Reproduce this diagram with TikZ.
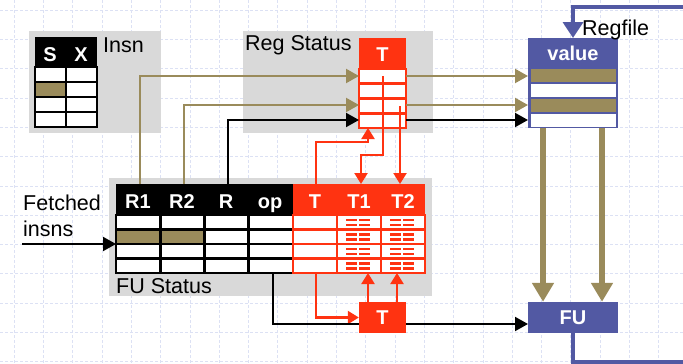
\documentclass[tikz,border=0pt]{standalone}
\usepackage{fontspec}
\setmainfont{Liberation Sans}
\usetikzlibrary{arrows.meta}

\definecolor{boxgray}{HTML}{D9D9D9}
\definecolor{regolive}{HTML}{9A8B5B}
\definecolor{tagred}{HTML}{FF3311}
\definecolor{rfblue}{HTML}{5259A3}
\definecolor{gridblue}{HTML}{DCE1F4}

\tikzset{
  lbl/.style={font=\fontsize{21.5}{24}\selectfont, inner sep=0pt},
  hdr/.style={font=\bfseries\fontsize{20}{22}\selectfont, text=white, inner sep=0pt, anchor=base},
  cellk/.style={draw=black, fill=white, line width=2.8pt},
  cellr/.style={draw=tagred, fill=white, line width=2.8pt},
  oliveln/.style={regolive, line width=2.2pt, -{Triangle[length=13pt,width=14pt]}},
  blackln/.style={black, line width=2pt, -{Triangle[length=13pt,width=14pt]}},
  redln/.style={tagred, line width=2.2pt, -{Triangle[length=11pt,width=13pt]}},
  busln/.style={regolive, line width=5.5pt, -{Triangle[length=19pt,width=21pt]}},
  wbln/.style={rfblue, line width=3.5pt},
}

\begin{document}
\begin{tikzpicture}[x=1pt, y=-1pt]
    \useasboundingbox (0,0) rectangle (683,364);

    % background grid
    \foreach \i in {0,...,22}
        \draw[gridblue, line width=0.6pt, dash pattern=on 3pt off 2pt] ({14+29.3*\i},0) -- ++(0,364);
    \foreach \j in {0,...,12}
        \draw[gridblue, line width=0.6pt, dash pattern=on 3pt off 2pt] (0,{10+29.3*\j}) -- ++(683,0);

    % gray panels
    \fill[boxgray] (29,31) rectangle (161,133);
    \fill[boxgray] (243,31) rectangle (433,133);
    \fill[boxgray] (109,178) rectangle (432,296);

    % Insn table
    \fill[black] (35,37) rectangle (97,67);
    \foreach \r in {0,...,3}
        \foreach \c in {0,1}
            \draw[cellk] ({35+31*\c},{67+15*\r}) rectangle ++(31,15);
    \draw[cellk, fill=regolive] (35,82) rectangle ++(31,15);
    \node[hdr] (hS) at (50,61) {S};
    \node[hdr] (hX) at (81,61) {X};

    % Reg Status table
    \fill[tagred] (359,38) rectangle (406,69);
    \foreach \r in {0,...,3}
        \draw[cellr] (359,{69+14.75*\r}) rectangle ++(47,14.75);
    \node[hdr] (hRegT) at (382.5,61) {T};

    % Regfile
    \fill[rfblue] (528,38) rectangle (618,128);
    \foreach \r/\col in {0/regolive,1/white,2/regolive,3/white}
        \fill[\col] (530.5,{68.5+15*\r}) rectangle (615.5,{81.5+15*\r});
    \node[hdr] (hValue) at (573,60) {value};

    % FU Status table
    \fill[black] (116,184) rectangle (293,215);
    \fill[tagred] (293,184) rectangle (425,215);
    \foreach \r in {0,...,3} {
        \foreach \c in {0,...,3}
            \draw[cellk] ({116+44.25*\c},{215+14.5*\r}) rectangle ++(44.25,14.5);
        \foreach \c in {0,1,2}
            \draw[cellr] ({293+44*\c},{215+14.5*\r}) rectangle ++(44,14.5);
    }
    \draw[cellk, fill=regolive] (116,229.5) rectangle ++(44.25,14.5);
    \draw[cellk, fill=regolive] (160.25,229.5) rectangle ++(44.25,14.5);
    % tag marks in T1/T2 cells
    \foreach \x in {337,381}
        \foreach \r in {0,...,3}
            \foreach \dx in {9,22}
                \foreach \dy in {3.5,8.5}
                    \fill[tagred] ({\x+\dx},{215+14.5*\r+\dy}) rectangle ++(11,2.6);
    \node[hdr] (hR1) at (138,208) {R1};
    \node[hdr] (hR2) at (182,208) {R2};
    \node[hdr] (hR) at (226,208) {R};
    \node[hdr] (hOp) at (270,208) {op};
    \node[hdr] (hT) at (315,208) {T};
    \node[hdr] (hT1) at (359,208) {T1};
    \node[hdr] (hT2) at (403,208) {T2};

    % T and FU boxes
    \node[fill=tagred, minimum width=47pt, minimum height=31pt, inner sep=0pt,
          font=\bfseries\fontsize{20}{22}\selectfont, text=white] (tbox) at (382.5,317.5) {T};
    \node[fill=rfblue, minimum width=90pt, minimum height=31pt, inner sep=0pt,
          font=\bfseries\fontsize{20}{22}\selectfont, text=white] (fu) at (573,317.5) {FU};

    % ports
    \coordinate (r1src) at (140,184);
    \coordinate (r2src) at (184,184);
    \coordinate (rsrc) at (228,184);
    \coordinate (rsIn1) at (359,76);
    \coordinate (rsIn2) at (359,105);
    \coordinate (rsIn3) at (359,120);
    \coordinate (rsOut1) at (406,76);
    \coordinate (rsOut2) at (406,105);
    \coordinate (rsOut3) at (406,120);
    \coordinate (rfIn1) at (528,76);
    \coordinate (rfIn2) at (528,105);
    \coordinate (rfIn3) at (528,120);
    \coordinate (rsTap1) at (383,76);
    \coordinate (rsTap2) at (400,106);
    \coordinate (rsBot) at (368,128);
    \coordinate (t1in) at (361,184);
    \coordinate (t2in) at (400,184);
    \coordinate (tsrc) at (316,184);
    \coordinate (tdown) at (316,273);
    \coordinate (opsrc) at (273,273);
    \coordinate (tboxin) at (359,324);
    \coordinate (tboxout) at (406,324);
    \coordinate (fuin) at (528,324);
    \coordinate (t1bot) at (368,273);
    \coordinate (t2bot) at (397,273);
    \coordinate (rfOut1) at (543,128);
    \coordinate (rfOut2) at (602,128);
    \coordinate (rfTop) at (573,38);
    \coordinate (wbStart) at (683,7);
    \coordinate (wbEnd) at (683,362);
    \coordinate (fetchsrc) at (22,244);
    \coordinate (fetchin) at (116,244);

    % source register lookups
    \draw[oliveln] (r1src) |- (rsIn1);
    \draw[oliveln] (rsOut1) -- (rfIn1);
    \draw[oliveln] (r2src) |- (rsIn2);
    \draw[oliveln] (rsOut2) -- (rfIn2);
    \draw[blackln] (rsrc) |- (rsIn3);
    \draw[blackln] (rsOut3) -- (rfIn3);

    % tags
    \draw[redln] (rsTap1) -- (383,155) -| (t1in);
    \draw[redln] (rsTap2) -- (t2in);
    \draw[redln] (tsrc) -- (316,142) -| (rsBot);
    \draw[redln] (tdown) |- (tbox.west);
    \draw[redln] (tbox.north -| t1bot) -- (t1bot);
    \draw[redln] (tbox.north -| t2bot) -- (t2bot);

    % issue to FU
    \draw[black, line width=2pt] (opsrc) |- (tboxin);
    \draw[blackln] (tboxout) -- (fuin);
    \draw[blackln] (fetchsrc) -- (fetchin);

    % operands and writeback
    \draw[busln] (rfOut1) -- (fu.north -| rfOut1);
    \draw[busln] (rfOut2) -- (fu.north -| rfOut2);
    \draw[wbln] (fu.south) |- (wbEnd);
    \draw[wbln, -{Triangle[length=16pt,width=20pt]}] (wbStart) -| (rfTop);

    % labels
    \node[lbl, anchor=base west] (insnlbl) at (103,52) {Insn};
    \node[lbl, anchor=base west] (reglbl) at (245,50) {Reg Status};
    \node[lbl, anchor=base west] (rflbl) at (582,35) {Regfile};
    \node[lbl, anchor=base west] (fetchlbl) at (23,210) {Fetched};
    \node[lbl, anchor=base west] (insnslbl) at (23,236) {insns};
    \node[lbl, anchor=base west] (fulbl) at (116,293) {FU Status};
\end{tikzpicture}
\end{document}
